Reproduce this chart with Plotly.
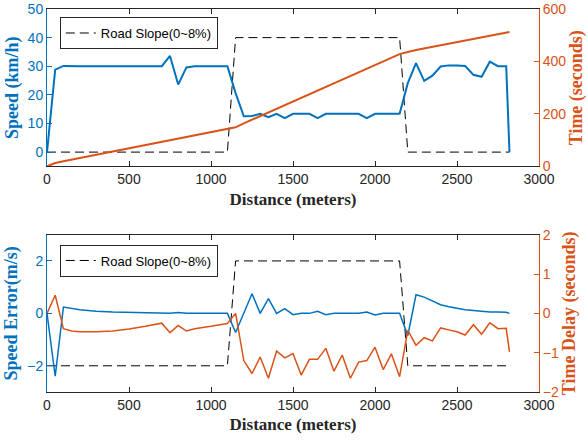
import plotly.graph_objects as go

BLUE = "#0072BD"
ORANGE = "#D95319"
AX = "#262626"

# ---- data ----
dist_speed = [0, 50, 100, 150, 200, 300, 400, 500, 600, 700, 750, 800, 850, 900, 1000, 1100,
              1150, 1200, 1250, 1300, 1350, 1400, 1450, 1500, 1550, 1600, 1650, 1700, 1750,
              1800, 1850, 1900, 1950, 2000, 2050, 2100, 2150, 2200, 2250, 2300, 2350, 2400,
              2450, 2500, 2550, 2600, 2650, 2700, 2750, 2800, 2820]
speed_kmh = [0, 28.8, 30.1, 30.0, 30.0, 30.0, 30.0, 30.0, 30.0, 30.0, 33.6, 23.6, 29.6, 30.0, 30.0, 30.0,
             20.6, 12.5, 12.6, 13.4, 12.2, 13.4, 11.9, 13.4, 13.4, 13.4, 11.9, 13.4, 13.4,
             13.4, 13.4, 13.4, 11.9, 13.4, 13.4, 13.4, 13.4, 24.1, 31.1, 24.9, 26.7, 29.9,
             30.3, 30.3, 30.1, 27.0, 26.3, 31.6, 30.0, 30.0, 0]

dist_time = [0, 50, 100, 1100, 1150, 1200, 2150, 2200, 2250, 2820]
time_s = [0, 13, 20, 141, 149, 164, 428, 436, 444, 512]

slope_x = [0, 1100, 1150, 2150, 2200, 2820]
slope_top = [0, 0, 40, 40, 0, 0]      # plotted on speed axis
slope_bot = [-2, -2, 2, 2, -2, -2]    # plotted on speed-error axis

dist_err = [0, 50, 100, 150, 200, 250, 300, 400, 500, 600, 700, 750, 800, 850, 900, 1000, 1100,
            1150, 1200, 1250, 1300, 1350, 1400, 1450, 1500, 1550, 1600, 1650, 1700, 1750,
            1800, 1850, 1900, 1950, 2000, 2050, 2100, 2150, 2200, 2250, 2300, 2350, 2400,
            2450, 2500, 2550, 2600, 2650, 2700, 2750, 2800, 2820]
speed_err = [0, -2.4, 0.24, 0.18, 0.14, 0.11, 0.08, 0.05, 0.03, 0.01, 0.0, 0.0, 0.03, 0.0, 0.0, 0.0, 0.0,
             -0.73, 0.0, 0.75, 0.0, 0.56, 0.0, 0.18, -0.05, 0.0, 0.0, 0.08, -0.05, 0.0,
             0.0, 0.0, 0.0, 0.05, -0.06, 0.0, 0.0, 0.0, -0.85, 0.71, 0.62, 0.46, 0.33,
             0.25, 0.19, 0.14, 0.11, 0.08, 0.05, 0.05, 0.04, 0.0]
time_delay = [0, 0.46, -0.39, -0.45, -0.47, -0.47, -0.47, -0.45, -0.40, -0.33, -0.25, -0.49, -0.31, -0.45, -0.39, -0.33, -0.26,
              0.0, -1.2, -1.53, -1.11, -1.65, -0.96, -1.13, -1.02, -1.57, -1.17, -1.17, -0.89, -1.47,
              -1.06, -1.65, -1.24, -1.2, -0.86, -1.43, -1.03, -1.61, -0.43, -0.81, -0.62, -0.7, -0.37,
              -0.42, -0.47, -0.55, -0.29, -0.53, -0.24, -0.39, -0.38, -0.98]

legend_label = "Road Slope(0~8%)"
x_ticks = [0, 500, 1000, 1500, 2000, 2500, 3000]

# ---- figure ----
fig = go.Figure()
dash = "9px,5px"

fig.add_trace(go.Scatter(x=slope_x, y=slope_top, mode="lines", name=legend_label,
                         line=dict(color="black", width=1, dash=dash),
                         xaxis="x", yaxis="y", legend="legend"))
fig.add_trace(go.Scatter(x=dist_speed, y=speed_kmh, mode="lines", showlegend=False,
                         line=dict(color=BLUE, width=2), xaxis="x", yaxis="y"))
fig.add_trace(go.Scatter(x=dist_time, y=time_s, mode="lines", showlegend=False,
                         line=dict(color=ORANGE, width=2), xaxis="x", yaxis="y2"))

fig.add_trace(go.Scatter(x=slope_x, y=slope_bot, mode="lines", name=legend_label,
                         line=dict(color="black", width=1, dash=dash),
                         xaxis="x2", yaxis="y3", legend="legend2"))
fig.add_trace(go.Scatter(x=dist_err, y=speed_err, mode="lines", showlegend=False,
                         line=dict(color=BLUE, width=1.5), xaxis="x2", yaxis="y3"))
fig.add_trace(go.Scatter(x=dist_err, y=time_delay, mode="lines", showlegend=False,
                         line=dict(color=ORANGE, width=1.5), xaxis="x2", yaxis="y4"))

tickfont = dict(family="Liberation Sans, Arial", size=14)
titlefont = dict(family="Liberation Serif, Times New Roman", size=17, weight="bold")
ytitlefont = dict(family="Liberation Serif, Times New Roman", size=18, weight="bold")

def xax(anchor):
    return dict(domain=[0, 1], anchor=anchor, range=[0, 3000], tickvals=x_ticks,
                ticks="inside", ticklen=5, tickcolor=AX, showline=True, linecolor=AX,
                linewidth=1, mirror="ticks", showgrid=False, zeroline=False, automargin=False,
                tickfont=dict(tickfont, color=AX),
                title=dict(text="Distance (meters)", font=dict(titlefont, color=AX), standoff=6))

def yleft(domain, rng, tv, title):
    return dict(domain=domain, range=rng, tickvals=tv, ticks="inside", ticklen=5,
                tickcolor=BLUE, showline=True, linecolor=BLUE, linewidth=1, showgrid=False,
                zeroline=False, automargin=False, tickfont=dict(tickfont, color=BLUE),
                title=dict(text=title, font=dict(ytitlefont, color=BLUE), standoff=4))

def yright(over, anchor, rng, tv, title):
    return dict(overlaying=over, side="right", anchor=anchor, range=rng, tickvals=tv,
                ticks="inside", ticklen=5, tickcolor=ORANGE, showline=True, linecolor=ORANGE,
                linewidth=1, showgrid=False, zeroline=False, automargin=False,
                tickfont=dict(tickfont, color=ORANGE),
                title=dict(text=title, font=dict(ytitlefont, color=ORANGE), standoff=4))

legend_style = dict(x=0.026, xanchor="left", yanchor="top", bgcolor="white",
                    bordercolor=AX, borderwidth=1,
                    font=dict(family="Liberation Sans, Arial", size=13, color="black"))

fig.update_layout(
    width=588, height=441,
    margin=dict(l=47, r=49, t=9, b=49, autoexpand=False),
    paper_bgcolor="white", plot_bgcolor="white",
    xaxis=xax("y"),
    xaxis2=xax("y3"),
    yaxis=yleft([0.589, 1.0], [-5, 50], [0, 10, 20, 30, 40, 50], "Speed (km/h)"),
    yaxis2=yright("y", "x", [0, 600], [0, 200, 400, 600], "Time (seconds)"),
    yaxis3=yleft([0, 0.4107], [-3, 3], [-2, 0, 2], "Speed Error(m/s)"),
    yaxis4=yright("y3", "x2", [-2, 2], [-2, -1, 0, 1, 2], "Time Delay (seconds)"),
    legend=dict(legend_style, y=0.979),
    legend2=dict(legend_style, y=0.385),
)

fig.write_html("out.html")
